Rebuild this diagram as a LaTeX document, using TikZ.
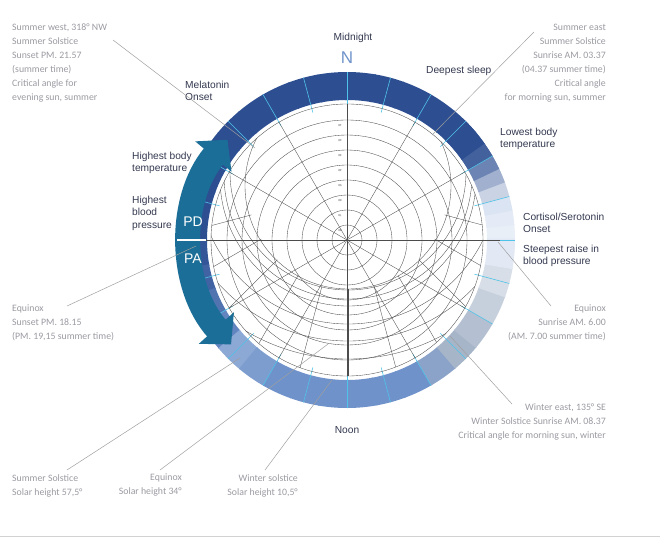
\documentclass[tikz,border=0pt]{standalone}
\usepackage{fontspec}
\setmainfont{Liberation Sans}
\newfontfamily\notefont{Carlito}
\usetikzlibrary{arrows.meta}
\definecolor{ringD}{HTML}{2D4F92}
\definecolor{ringL}{HTML}{6F92CA}
\definecolor{ringG}{HTML}{A7B5C9}
\definecolor{tickC}{HTML}{4FC3E8}
\definecolor{arrowC}{HTML}{1B6E97}
\definecolor{noteC}{HTML}{9A9AA2}
\definecolor{labelC}{HTML}{33384F}

\begin{document}
\begin{tikzpicture}[x=1pt,y=-1pt,
  note/.style={font=\notefont\fontsize{9.8}{14}\selectfont, text=noteC, inner sep=0pt},
  label/.style={font=\fontsize{10.2}{12.5}\selectfont, text=labelC, inner sep=0pt, align=left},
  leader/.style={gray!75, line width=0.5pt},
  grid/.style={black!70, line width=0.35pt}]
\useasboundingbox (0,0) rectangle (660,538);
\coordinate (O) at (347,240);

% Coloured ring
\foreach \a/\c in {0/ringL!15!white, 5/ringL!18!white, 10/ringL!25!white, 15/ringD!25!white,
  20/ringD!45!white, 25/ringD!70!white, 30/ringD!90!white, 35/ringD,
  40/ringD, 50/ringD, 60/ringD, 70/ringD, 80/ringD, 90/ringD, 100/ringD, 110/ringD, 120/ringD,
  130/ringD, 140/ringD, 150/ringD, 160/ringD, 170/ringD, 180/ringD!90!ringL, 190/ringD!70!ringL,
  200/ringD!45!ringL, 210/ringD!20!ringL, 220/ringL!80!white, 230/ringL!90!white, 240/ringL,
  250/ringL, 260/ringL, 270/ringL, 280/ringL, 290/ringL, 300/ringL!50!ringG, 310/ringG,
  320/ringG!85!white, 330/ringG!65!white, 340/ringG!45!white, 350/ringL!20!white}
  \draw[line width=28, \c] (O) ++(-\a:154) arc[start angle=-\a, end angle=-\a-10.6, radius=154];

% Hour ticks across the ring
\foreach \a in {0,15,...,345}
  \draw[tickC, line width=0.6pt] (O) ++(-\a:132) -- ++(-\a:36);

% Sun chart
\begin{scope}
\clip (O) circle (136);
\foreach \r in {15,30,...,120}
  \draw[grid] (O) circle (\r);
\foreach \a in {0,30,...,330}
  \draw[grid] (O) -- ++(\a:140);
% sun paths
\draw[grid] (348,186) circle (103);
\draw[grid] (348,172) circle (118);
\draw[grid] (348,175) circle (124);
\draw[grid] (348,178) circle (128);
\draw[grid] (348,173.5) circle (150.5);
\draw[grid] (348,166) circle (175);
\draw[grid] (348,159) circle (200);
% hour lines
\foreach \a in {-165,-150,...,-15}
  \draw[grid] (348,189) ++(-\a:100) -- ++(-\a:200);
\end{scope}
\draw[grid] (O) circle (136);
\draw[grid] (203,240) -- (500,240);
\foreach \t [count=\i] in {80,70,60,50,40,30,20,10}
  \node[font=\fontsize{3}{3}\selectfont, rotate=180, text=black!70] at (340,240-15*\i+6) {\t};

% Arrow across the left of the ring
\draw[arrowC, line width=25, {Triangle[width=46pt,length=22pt]}-{Triangle[width=46pt,length=22pt]}]
  (O) ++(-222:156) arc[start angle=-222, end angle=-140, radius=156];
\draw[white, line width=1.2pt] (177,240) -- (206,240);
\node[text=white, font=\fontsize{14}{14}\selectfont] (pd) at (193,222) {PD};
\node[text=white, font=\fontsize{14}{14}\selectfont] (pa) at (193,259) {PA};

% Dark labels
\node[label] (midnight) at (353,38) {Midnight};
\node[font=\fontsize{17}{17}\selectfont, text=ringL] (north) at (347,58) {N};
\node[label, anchor=west] (melatonin) at (185,91) {Melatonin\\Onset};
\node[label, anchor=west] (deepest) at (426,71) {Deepest sleep};
\node[label, anchor=west] (lowest) at (500,139) {Lowest body\\temperature};
\node[label, anchor=west] (cortisol) at (523,223) {Cortisol/Serotonin\\Onset};
\node[label, anchor=west] (steepest) at (523,256) {Steepest raise in\\blood pressure};
\node[label, anchor=west] (bodytemp) at (132,163) {Highest body\\temperature};
\node[label, anchor=west] (bloodp) at (132,213) {Highest\\blood\\pressure};
\node[label] (noon) at (347,430) {Noon};

% Grey notes
\node[note, anchor=north west, align=left] (sumwest) at (12,24) {Summer west, 318° NW\\Summer Solstice\\Sunset PM. 21.57\\(summer time)\\Critical angle for\\evening sun, summer};
\node[note, anchor=north east, align=right] (sumeast) at (606,24) {Summer east\\Summer Solstice\\Sunrise AM. 03.37\\(04.37 summer time)\\Critical angle\\for morning sun, summer};
\node[note, anchor=north west, align=left] (eqset) at (12,305) {Equinox\\Sunset PM. 18.15\\(PM. 19,15 summer time)};
\node[note, anchor=north east, align=right] (eqrise) at (606,305) {Equinox\\Sunrise AM. 6.00\\(AM. 7.00 summer time)};
\node[note, anchor=north east, align=right] (wineast) at (606,404) {Winter east, 135° SE\\Winter Solstice Sunrise AM. 08.37\\Critical angle for morning sun, winter};
\node[note, anchor=north west, align=left] (sumsol) at (12,474) {Summer Solstice\\Solar height 57,5°};
\node[note, anchor=north east, align=right] (eqheight) at (182,474) {Equinox\\Solar height 34°};
\node[note, anchor=north east, align=right] (winsol) at (298,474) {Winter solstice\\Solar height 10,5°};

% Leader lines
\coordinate (sumwestEnd) at (255,148);
\coordinate (sumeastEnd) at (432,135);
\coordinate (eqsetEnd) at (196,246);
\coordinate (eqriseEnd) at (498,242);
\coordinate (wineastEnd) at (450,336);
\coordinate (sumsolEnd) at (240,358);
\coordinate (eqheightEnd) at (328,344);
\coordinate (winsolEnd) at (332,380);
\draw[leader] (113,40) -- (sumwestEnd);
\draw[leader] (534,32) -- (sumeastEnd);
\draw[leader] (67,306) -- (eqsetEnd);
\draw[leader] (551,306) -- (eqriseEnd);
\draw[leader] (512,404) -- (wineastEnd);
\draw[leader] (67,470) -- (sumsolEnd);
\draw[leader] (160,470) -- (eqheightEnd);
\draw[leader] (265,470) -- (winsolEnd);

\draw[gray!35, line width=0.8pt] (0,536) -- (660,536);
\end{tikzpicture}
\end{document}
